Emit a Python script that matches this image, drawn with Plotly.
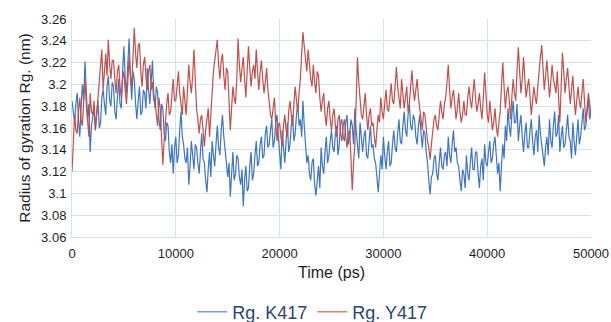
import plotly.graph_objects as go

# Time axis (ps), one sample every 125 ps
time_ps = [i * 125 for i in range(401)]

rg_k417 = [
    3.185, 3.172, 3.165, 3.182, 3.192, 3.168, 3.152, 3.178,
    3.200, 3.185, 3.221, 3.195, 3.168, 3.182, 3.138, 3.162,
    3.172, 3.178, 3.158, 3.175, 3.186, 3.160, 3.165, 3.188,
    3.195, 3.182, 3.172, 3.198, 3.208, 3.185, 3.180, 3.202,
    3.198, 3.175, 3.168, 3.188, 3.205, 3.182, 3.178, 3.212,
    3.235, 3.205, 3.192, 3.218, 3.242, 3.208, 3.186, 3.212,
    3.205, 3.182, 3.168, 3.185, 3.198, 3.172, 3.175, 3.195,
    3.192, 3.178, 3.215, 3.195, 3.182, 3.202, 3.222, 3.192,
    3.178, 3.198, 3.192, 3.168, 3.158, 3.182, 3.178, 3.155,
    3.148, 3.165, 3.162, 3.138, 3.128, 3.145, 3.118, 3.142,
    3.152, 3.128, 3.135, 3.158, 3.175, 3.152, 3.145, 3.132,
    3.128, 3.142, 3.108, 3.125, 3.148, 3.135, 3.122, 3.145,
    3.142, 3.128, 3.118, 3.138, 3.155, 3.132, 3.128, 3.112,
    3.101, 3.122, 3.138, 3.115, 3.148, 3.135, 3.125, 3.145,
    3.162, 3.142, 3.135, 3.158, 3.172, 3.152, 3.142, 3.128,
    3.115, 3.128, 3.097, 3.118, 3.138, 3.112, 3.118, 3.135,
    3.132, 3.115, 3.108, 3.122, 3.088, 3.112, 3.125, 3.102,
    3.105, 3.125, 3.138, 3.112, 3.118, 3.135, 3.148, 3.125,
    3.128, 3.145, 3.152, 3.132, 3.135, 3.155, 3.162, 3.142,
    3.145, 3.158, 3.168, 3.142, 3.148, 3.165, 3.172, 3.152,
    3.138, 3.122, 3.158, 3.142, 3.128, 3.148, 3.165, 3.138,
    3.145, 3.162, 3.172, 3.148, 3.155, 3.172, 3.182, 3.162,
    3.168, 3.152, 3.185, 3.162, 3.148, 3.128, 3.135, 3.118,
    3.112, 3.128, 3.132, 3.108, 3.098, 3.115, 3.125, 3.105,
    3.142, 3.125, 3.118, 3.138, 3.152, 3.128, 3.135, 3.148,
    3.158, 3.142, 3.138, 3.155, 3.162, 3.135, 3.145, 3.165,
    3.168, 3.152, 3.148, 3.165, 3.172, 3.145, 3.152, 3.168,
    3.162, 3.145, 3.178, 3.158, 3.145, 3.132, 3.165, 3.148,
    3.138, 3.152, 3.158, 3.135, 3.132, 3.148, 3.162, 3.142,
    3.145, 3.132, 3.128, 3.115, 3.101, 3.118, 3.135, 3.122,
    3.152, 3.135, 3.122, 3.138, 3.148, 3.125, 3.128, 3.145,
    3.158, 3.142, 3.138, 3.155, 3.168, 3.148, 3.145, 3.162,
    3.175, 3.158, 3.152, 3.172, 3.182, 3.162, 3.158, 3.172,
    3.168, 3.152, 3.145, 3.162, 3.172, 3.155, 3.142, 3.158,
    3.155, 3.138, 3.128, 3.112, 3.099, 3.115, 3.118, 3.132,
    3.135, 3.118, 3.112, 3.128, 3.142, 3.125, 3.122, 3.135,
    3.138, 3.125, 3.152, 3.135, 3.128, 3.145, 3.158, 3.138,
    3.142, 3.128, 3.125, 3.112, 3.102, 3.122, 3.118, 3.105,
    3.135, 3.118, 3.112, 3.128, 3.142, 3.122, 3.122, 3.138,
    3.138, 3.118, 3.105, 3.125, 3.132, 3.112, 3.145, 3.128,
    3.125, 3.138, 3.148, 3.128, 3.132, 3.145, 3.152, 3.135,
    3.118, 3.128, 3.102, 3.125, 3.145, 3.132, 3.162, 3.148,
    3.178, 3.162, 3.152, 3.172, 3.185, 3.165, 3.165, 3.182,
    3.148, 3.162, 3.172, 3.152, 3.138, 3.155, 3.165, 3.142,
    3.142, 3.158, 3.168, 3.148, 3.135, 3.152, 3.158, 3.138,
    3.172, 3.155, 3.145, 3.132, 3.125, 3.142, 3.152, 3.135,
    3.168, 3.148, 3.142, 3.162, 3.175, 3.152, 3.155, 3.172,
    3.138, 3.152, 3.162, 3.142, 3.145, 3.158, 3.172, 3.152,
    3.148, 3.132, 3.165, 3.148, 3.135, 3.152, 3.168, 3.145,
    3.152, 3.165, 3.178, 3.158, 3.162, 3.175, 3.186, 3.168,
    3.175,
]

rg_y417 = [
    3.120, 3.145, 3.172, 3.158, 3.155, 3.175, 3.188, 3.168,
    3.162, 3.185, 3.205, 3.182, 3.168, 3.152, 3.192, 3.175,
    3.172, 3.185, 3.158, 3.172, 3.185, 3.198, 3.215, 3.232,
    3.195, 3.212, 3.228, 3.208, 3.241, 3.218, 3.205, 3.222,
    3.222, 3.205, 3.192, 3.212, 3.218, 3.198, 3.188, 3.205,
    3.212, 3.195, 3.182, 3.202, 3.225, 3.208, 3.198, 3.225,
    3.252, 3.228, 3.215, 3.235, 3.238, 3.212, 3.198, 3.218,
    3.225, 3.208, 3.195, 3.212, 3.218, 3.195, 3.202, 3.185,
    3.185, 3.172, 3.162, 3.188, 3.178, 3.152, 3.126, 3.148,
    3.168, 3.182, 3.192, 3.172, 3.175, 3.195, 3.205, 3.185,
    3.185, 3.198, 3.212, 3.192, 3.178, 3.172, 3.198, 3.185,
    3.172, 3.195, 3.218, 3.202, 3.192, 3.208, 3.232, 3.205,
    3.178, 3.168, 3.155, 3.168, 3.172, 3.158, 3.143, 3.158,
    3.168, 3.178, 3.152, 3.175, 3.198, 3.212, 3.222, 3.235,
    3.241, 3.218, 3.205, 3.222, 3.228, 3.208, 3.195, 3.215,
    3.212, 3.185, 3.158, 3.178, 3.198, 3.188, 3.182, 3.205,
    3.242, 3.218, 3.202, 3.215, 3.225, 3.205, 3.188, 3.212,
    3.235, 3.215, 3.198, 3.212, 3.218, 3.205, 3.232, 3.212,
    3.195, 3.212, 3.222, 3.205, 3.192, 3.202, 3.215, 3.195,
    3.182, 3.172, 3.168, 3.182, 3.188, 3.165, 3.148, 3.162,
    3.165, 3.152, 3.143, 3.162, 3.172, 3.158, 3.152, 3.175,
    3.185, 3.172, 3.162, 3.182, 3.198, 3.185, 3.175, 3.192,
    3.205, 3.228, 3.248, 3.235, 3.225, 3.212, 3.232, 3.218,
    3.205, 3.198, 3.218, 3.202, 3.192, 3.212, 3.208, 3.188,
    3.175, 3.185, 3.192, 3.172, 3.162, 3.178, 3.185, 3.168,
    3.158, 3.172, 3.178, 3.162, 3.152, 3.168, 3.172, 3.155,
    3.148, 3.162, 3.168, 3.152, 3.142, 3.155, 3.158, 3.132,
    3.103, 3.128, 3.145, 3.185, 3.225, 3.202, 3.185, 3.172,
    3.168, 3.182, 3.192, 3.172, 3.158, 3.172, 3.178, 3.162,
    3.165, 3.152, 3.142, 3.158, 3.172, 3.165, 3.188, 3.175,
    3.168, 3.182, 3.195, 3.178, 3.175, 3.188, 3.201, 3.185,
    3.182, 3.198, 3.216, 3.198, 3.188, 3.178, 3.205, 3.192,
    3.178, 3.188, 3.198, 3.175, 3.182, 3.198, 3.213, 3.195,
    3.185, 3.195, 3.205, 3.188, 3.175, 3.168, 3.158, 3.175,
    3.172, 3.158, 3.148, 3.142, 3.131, 3.145, 3.155, 3.168,
    3.172, 3.162, 3.158, 3.172, 3.185, 3.175, 3.168, 3.182,
    3.188, 3.202, 3.218, 3.195, 3.178, 3.188, 3.195, 3.182,
    3.168, 3.178, 3.192, 3.175, 3.165, 3.172, 3.185, 3.172,
    3.172, 3.188, 3.198, 3.185, 3.178, 3.192, 3.205, 3.188,
    3.175, 3.182, 3.192, 3.178, 3.168, 3.188, 3.211, 3.192,
    3.172, 3.165, 3.185, 3.172, 3.158, 3.165, 3.178, 3.162,
    3.152, 3.165, 3.175, 3.198, 3.220, 3.198, 3.178, 3.192,
    3.198, 3.185, 3.168, 3.188, 3.205, 3.192, 3.185, 3.212,
    3.234, 3.212, 3.192, 3.205, 3.225, 3.205, 3.188, 3.198,
    3.205, 3.188, 3.172, 3.185, 3.198, 3.188, 3.182, 3.198,
    3.215, 3.225, 3.236, 3.212, 3.195, 3.208, 3.222, 3.205,
    3.188, 3.202, 3.218, 3.205, 3.198, 3.192, 3.212, 3.188,
    3.165, 3.198, 3.229, 3.212, 3.192, 3.205, 3.215, 3.198,
    3.182, 3.195, 3.208, 3.188, 3.172, 3.185, 3.198, 3.185,
    3.178, 3.192, 3.205, 3.185, 3.165, 3.178, 3.192, 3.182,
    3.172,
]

series_names = ["Rg. K417", "Rg. Y417"]
y_tick_vals = [3.06, 3.08, 3.10, 3.12, 3.14, 3.16, 3.18, 3.20, 3.22, 3.24, 3.26]
y_tick_text = ["3.06", "3.08", "3.1", "3.12", "3.14", "3.16", "3.18", "3.2", "3.22", "3.24", "3.26"]
x_tick_vals = [0, 10000, 20000, 30000, 40000, 50000]
x_tick_text = ["0", "10000", "20000", "30000", "40000", "50000"]

blue = "#3F75C0"
red = "#C0504D"
grid = "#D3E1F3"
text_col = "#1E1E1E"
font_family = "Liberation Sans, Arial, sans-serif"

fig = go.Figure()
fig.add_trace(go.Scatter(x=time_ps, y=rg_k417, mode="lines", name=series_names[0],
                         line=dict(color=blue, width=1.2), showlegend=False))
fig.add_trace(go.Scatter(x=time_ps, y=rg_y417, mode="lines", name=series_names[1],
                         line=dict(color=red, width=1.2), showlegend=False))
# legend entries (lighter sample lines, as in the reference)
fig.add_trace(go.Scatter(x=[None], y=[None], mode="lines", name=series_names[0],
                         line=dict(color="#7C9DD6", width=1.5)))
fig.add_trace(go.Scatter(x=[None], y=[None], mode="lines", name=series_names[1],
                         line=dict(color="#DE7E7B", width=1.5)))

fig.update_layout(
    width=611, height=322,
    margin=dict(l=72, r=20, t=19, b=85, autoexpand=False),
    paper_bgcolor="white", plot_bgcolor="white",
    font=dict(family=font_family, color=text_col, size=13),
    legend=dict(orientation="h", xref="container", yref="container",
                x=0.511, xanchor="center", y=0.031, yanchor="middle",
                font=dict(size=18, color="#2E4272"), itemwidth=30,
                bgcolor="rgba(0,0,0,0)"),
    xaxis=dict(range=[0, 50000], tickvals=x_tick_vals, ticktext=x_tick_text,
               showgrid=True, gridcolor=grid, gridwidth=1, zeroline=False,
               showline=True, linecolor=grid, ticks="outside", ticklen=4,
               tickcolor="rgba(0,0,0,0)", automargin=False,
               tickfont=dict(size=13, color=text_col),
               title=dict(text="Time (ps)", font=dict(size=16, color=text_col), standoff=7)),
    yaxis=dict(range=[3.06, 3.26], tickvals=y_tick_vals, ticktext=y_tick_text,
               showgrid=True, gridcolor=grid, gridwidth=1, zeroline=False,
               showline=True, linecolor=grid, ticks="outside", ticklen=2,
               tickcolor="rgba(0,0,0,0)", automargin=False,
               tickfont=dict(size=13, color=text_col),
               title=dict(text="Radius of gyration Rg. (nm)", font=dict(size=15.5, color=text_col),
                          standoff=6)),
)

assert len(rg_k417) == len(time_ps) and len(rg_y417) == len(time_ps)
# remove the default 8px page margin so the figure fills the window exactly
fig.write_html("out.html", config={"displayModeBar": False},
               post_script="document.body.style.margin='0';document.body.style.overflow='hidden';")
